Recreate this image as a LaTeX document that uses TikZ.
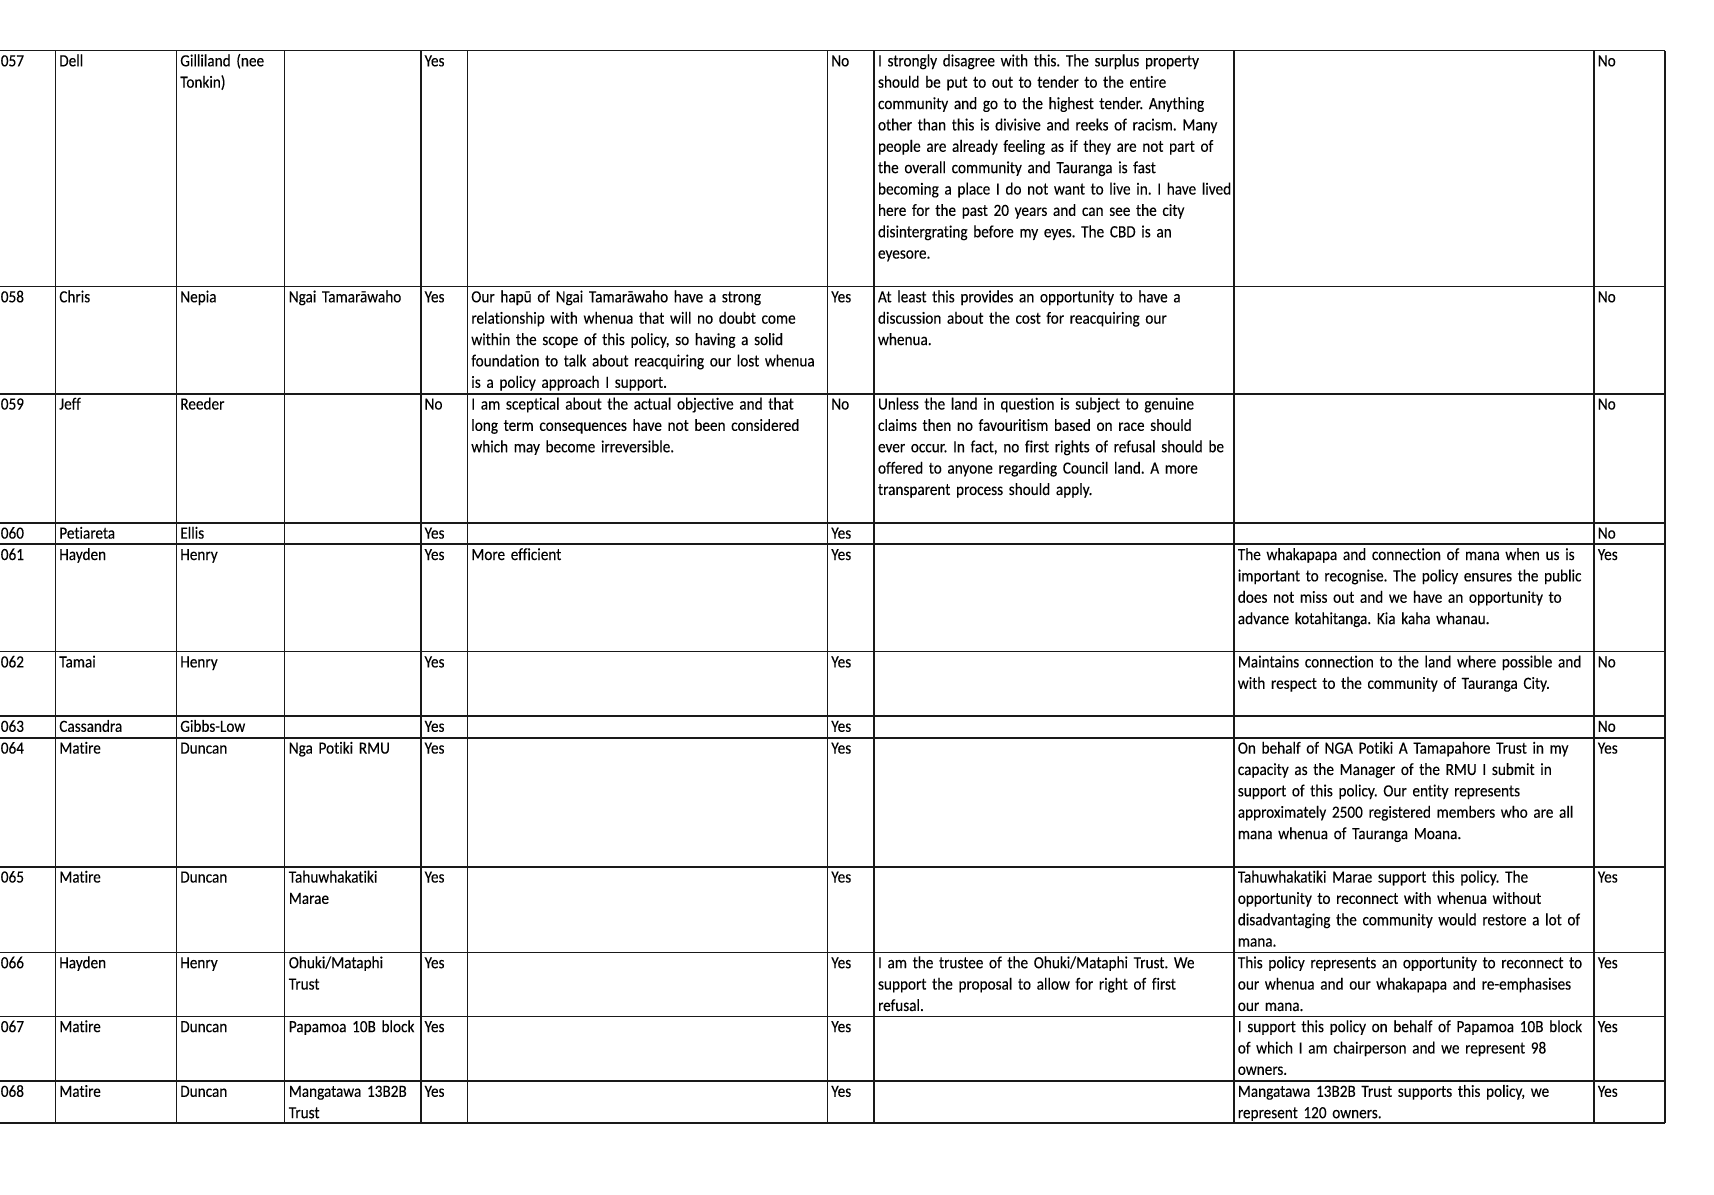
\documentclass[tikz,border=0pt]{standalone}
\usepackage{fontspec}
\setmainfont{Carlito}[Ligatures=NoCommon,FakeStretch=0.895,FakeBold=0.15]
\tikzset{
	sheet/.style={x=0.6285pt,y=-0.6285pt},
	rule/.style={line width=1pt,black!90},
	cell/.style={
		anchor=base west,
		inner sep=0pt,
		text width=380pt,
		align=left,
		font=\fontsize{10.7pt}{13.43pt}\selectfont\frenchspacing
	}
}

\begin{document}
\begin{tikzpicture}[sheet]

	\useasboundingbox (0,0) rectangle (1714,1194);

	% column x of the text in each cell
	\def\xid{0.5}
	\def\xfirst{59}
	\def\xlast{180}
	\def\xorg{288.5}
	\def\xqa{424.3}
	\def\xca{471}
	\def\xqb{831}
	\def\xcb{877.7}
	\def\xcc{1237.5}
	\def\xqc{1597.5}

	% grid
	\foreach \y in {50.5,286.5,393.7,522.8,544.2,651.6,716,737.8,866.7,952.4,1016.3,1081,1123}
	{
		\draw[rule] (-6,\y)--(1665,\y);
	}
	\foreach \x in {-4,55.5,176.5,284.5,420.8,467.5,827.4,874,1234,1594,1665}
	{
		\draw[rule] (\x,50.5)--(\x,1123);
	}

	%% 057
	\def\b{66.3}
	\node[cell] (r57id)    at (\xid,\b)    {057};
	\node[cell] (r57first) at (\xfirst,\b) {Dell};
	\node[cell] (r57last)  at (\xlast,\b)  {Gilliland (nee\\Tonkin)};
	\node[cell] (r57qa)    at (\xqa,\b)    {Yes};
	\node[cell] (r57qb)    at (\xqb,\b)    {No};
	\node[cell] (r57cb)    at (\xcb,\b)    {I strongly disagree with this. The surplus property\\should be put to out to tender to the entire\\community and go to the highest tender. Anything\\other than this is divisive and reeks of racism. Many\\people are already feeling as if they are not part of\\the overall community and Tauranga is fast\\becoming a place I do not want to live in. I have lived\\here for the past 20 years and can see the city\\disintergrating before my eyes. The CBD is an\\eyesore.};
	\node[cell] (r57qc)    at (\xqc,\b)    {No};

	%% 058
	\def\b{302.3}
	\node[cell] (r58id)    at (\xid,\b)    {058};
	\node[cell] (r58first) at (\xfirst,\b) {Chris};
	\node[cell] (r58last)  at (\xlast,\b)  {Nepia};
	\node[cell] (r58org)   at (\xorg,\b)   {Ngai Tamarāwaho};
	\node[cell] (r58qa)    at (\xqa,\b)    {Yes};
	\node[cell] (r58ca)    at (\xca,\b)    {Our hapū of Ngai Tamarāwaho have a strong\\relationship with whenua that will no doubt come\\within the scope of this policy, so having a solid\\foundation to talk about reacquiring our lost whenua\\is a policy approach I support.};
	\node[cell] (r58qb)    at (\xqb,\b)    {Yes};
	\node[cell] (r58cb)    at (\xcb,\b)    {At least this provides an opportunity to have a\\discussion about the cost for reacquiring our\\whenua.};
	\node[cell] (r58qc)    at (\xqc,\b)    {No};

	%% 059
	\def\b{409.5}
	\node[cell] (r59id)    at (\xid,\b)    {059};
	\node[cell] (r59first) at (\xfirst,\b) {Jeff};
	\node[cell] (r59last)  at (\xlast,\b)  {Reeder};
	\node[cell] (r59qa)    at (\xqa,\b)    {No};
	\node[cell] (r59ca)    at (\xca,\b)    {I am sceptical about the actual objective and that\\long term consequences have not been considered\\which may become irreversible.};
	\node[cell] (r59qb)    at (\xqb,\b)    {No};
	\node[cell] (r59cb)    at (\xcb,\b)    {Unless the land in question is subject to genuine\\claims then no favouritism based on race should\\ever occur. In fact, no first rights of refusal should be\\offered to anyone regarding Council land. A more\\transparent process should apply.};
	\node[cell] (r59qc)    at (\xqc,\b)    {No};

	%% 060
	\def\b{538.6}
	\node[cell] (r60id)    at (\xid,\b)    {060};
	\node[cell] (r60first) at (\xfirst,\b) {Petiareta};
	\node[cell] (r60last)  at (\xlast,\b)  {Ellis};
	\node[cell] (r60qa)    at (\xqa,\b)    {Yes};
	\node[cell] (r60qb)    at (\xqb,\b)    {Yes};
	\node[cell] (r60qc)    at (\xqc,\b)    {No};

	%% 061
	\def\b{560}
	\node[cell] (r61id)    at (\xid,\b)    {061};
	\node[cell] (r61first) at (\xfirst,\b) {Hayden};
	\node[cell] (r61last)  at (\xlast,\b)  {Henry};
	\node[cell] (r61qa)    at (\xqa,\b)    {Yes};
	\node[cell] (r61ca)    at (\xca,\b)    {More efficient};
	\node[cell] (r61qb)    at (\xqb,\b)    {Yes};
	\node[cell] (r61cc)    at (\xcc,\b)    {The whakapapa and connection of mana when us is\\important to recognise. The policy ensures the public\\does not miss out and we have an opportunity to\\advance kotahitanga. Kia kaha whanau.};
	\node[cell] (r61qc)    at (\xqc,\b)    {Yes};

	%% 062
	\def\b{667.4}
	\node[cell] (r62id)    at (\xid,\b)    {062};
	\node[cell] (r62first) at (\xfirst,\b) {Tamai};
	\node[cell] (r62last)  at (\xlast,\b)  {Henry};
	\node[cell] (r62qa)    at (\xqa,\b)    {Yes};
	\node[cell] (r62qb)    at (\xqb,\b)    {Yes};
	\node[cell] (r62cc)    at (\xcc,\b)    {Maintains connection to the land where possible and\\with respect to the community of Tauranga City.};
	\node[cell] (r62qc)    at (\xqc,\b)    {No};

	%% 063
	\def\b{731.8}
	\node[cell] (r63id)    at (\xid,\b)    {063};
	\node[cell] (r63first) at (\xfirst,\b) {Cassandra};
	\node[cell] (r63last)  at (\xlast,\b)  {Gibbs-Low};
	\node[cell] (r63qa)    at (\xqa,\b)    {Yes};
	\node[cell] (r63qb)    at (\xqb,\b)    {Yes};
	\node[cell] (r63qc)    at (\xqc,\b)    {No};

	%% 064
	\def\b{753.6}
	\node[cell] (r64id)    at (\xid,\b)    {064};
	\node[cell] (r64first) at (\xfirst,\b) {Matire};
	\node[cell] (r64last)  at (\xlast,\b)  {Duncan};
	\node[cell] (r64org)   at (\xorg,\b)   {Nga Potiki RMU};
	\node[cell] (r64qa)    at (\xqa,\b)    {Yes};
	\node[cell] (r64qb)    at (\xqb,\b)    {Yes};
	\node[cell] (r64cc)    at (\xcc,\b)    {On behalf of NGA Potiki A Tamapahore Trust in my\\capacity as the Manager of the RMU I submit in\\support of this policy. Our entity represents\\approximately 2500 registered members who are all\\mana whenua of Tauranga Moana.};
	\node[cell] (r64qc)    at (\xqc,\b)    {Yes};

	%% 065
	\def\b{882.5}
	\node[cell] (r65id)    at (\xid,\b)    {065};
	\node[cell] (r65first) at (\xfirst,\b) {Matire};
	\node[cell] (r65last)  at (\xlast,\b)  {Duncan};
	\node[cell] (r65org)   at (\xorg,\b)   {Tahuwhakatiki\\Marae};
	\node[cell] (r65qa)    at (\xqa,\b)    {Yes};
	\node[cell] (r65qb)    at (\xqb,\b)    {Yes};
	\node[cell] (r65cc)    at (\xcc,\b)    {Tahuwhakatiki Marae support this policy. The\\opportunity to reconnect with whenua without\\disadvantaging the community would restore a lot of\\mana.};
	\node[cell] (r65qc)    at (\xqc,\b)    {Yes};

	%% 066
	\def\b{968.2}
	\node[cell] (r66id)    at (\xid,\b)    {066};
	\node[cell] (r66first) at (\xfirst,\b) {Hayden};
	\node[cell] (r66last)  at (\xlast,\b)  {Henry};
	\node[cell] (r66org)   at (\xorg,\b)   {Ohuki/Mataphi\\Trust};
	\node[cell] (r66qa)    at (\xqa,\b)    {Yes};
	\node[cell] (r66qb)    at (\xqb,\b)    {Yes};
	\node[cell] (r66cb)    at (\xcb,\b)    {I am the trustee of the Ohuki/Mataphi Trust. We\\support the proposal to allow for right of first\\refusal.};
	\node[cell] (r66cc)    at (\xcc,\b)    {This policy represents an opportunity to reconnect to\\our whenua and our whakapapa and re-emphasises\\our mana.};
	\node[cell] (r66qc)    at (\xqc,\b)    {Yes};

	%% 067
	\def\b{1032.1}
	\node[cell] (r67id)    at (\xid,\b)    {067};
	\node[cell] (r67first) at (\xfirst,\b) {Matire};
	\node[cell] (r67last)  at (\xlast,\b)  {Duncan};
	\node[cell] (r67org)   at (\xorg,\b)   {Papamoa 10B block};
	\node[cell] (r67qa)    at (\xqa,\b)    {Yes};
	\node[cell] (r67qb)    at (\xqb,\b)    {Yes};
	\node[cell] (r67cc)    at (\xcc,\b)    {I support this policy on behalf of Papamoa 10B block\\of which I am chairperson and we represent 98\\owners.};
	\node[cell] (r67qc)    at (\xqc,\b)    {Yes};

	%% 068
	\def\b{1096.8}
	\node[cell] (r68id)    at (\xid,\b)    {068};
	\node[cell] (r68first) at (\xfirst,\b) {Matire};
	\node[cell] (r68last)  at (\xlast,\b)  {Duncan};
	\node[cell] (r68org)   at (\xorg,\b)   {Mangatawa 13B2B\\Trust};
	\node[cell] (r68qa)    at (\xqa,\b)    {Yes};
	\node[cell] (r68qb)    at (\xqb,\b)    {Yes};
	\node[cell] (r68cc)    at (\xcc,\b)    {Mangatawa 13B2B Trust supports this policy, we\\represent 120 owners.};
	\node[cell] (r68qc)    at (\xqc,\b)    {Yes};

\end{tikzpicture}
\end{document}
